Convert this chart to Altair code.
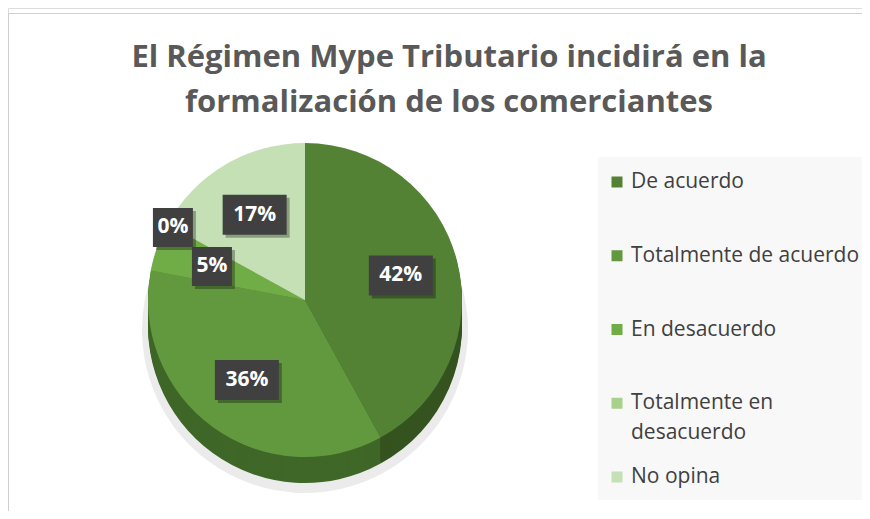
import altair as alt
import pandas as pd

categories = ["De acuerdo", "Totalmente de acuerdo", "En desacuerdo",
              "Totalmente en desacuerdo", "No opina"]
percentages = [42, 36, 5, 0, 17]
labels = ["42%", "36%", "5%", "0%", "17%"]
order_idx = [0, 1, 2, 3, 4]
top_colors = ["#548235", "#62993e", "#70ad47", "#a9d18e", "#c5e0b4"]
side_colors = ["#35531f", "#3f6728", "#4d7d31", "#7a9a66", "#8eab84"]
title_lines = ["El Régimen Mype Tributario incidirá en la",
               "formalización de los comerciantes"]

df = pd.DataFrame({"cat": categories, "pct": percentages,
                   "label": labels, "idx": order_idx})
one = pd.DataFrame({"a": [0]})

W, H = 854, 503
CX, CY, R = 297, 292, 157
DEPTH = 26
FONT = "Open Sans"

base = alt.Chart(df)
theta = alt.Theta("pct:Q", stack=True)
order = alt.Order("idx:Q", sort="ascending")

# frame
top_line = alt.Chart(one).mark_rule(color="#d0d0d0", strokeWidth=1).encode(
    x=alt.value(0), x2=alt.value(W), y=alt.value(5.5))
left_line = alt.Chart(one).mark_rule(color="#d0d0d0", strokeWidth=1).encode(
    x=alt.value(0.5), y=alt.value(5), y2=alt.value(H))
legend_bg = alt.Chart(one).mark_rect(color="#f8f8f8").encode(
    x=alt.value(590), x2=alt.value(W), y=alt.value(149), y2=alt.value(492))

title = alt.Chart(one).mark_text(
    font=FONT, fontSize=31, fontWeight="bold", color="#595959",
    lineHeight=45, baseline="middle", align="center"
).encode(x=alt.value(441), y=alt.value(50), text=alt.value(title_lines))

# pie shadow
shadow = base.mark_arc(radius=R + 6, opacity=0.08, color="#000000").encode(
    theta=theta, order=order, x=alt.value(CX), y=alt.value(CY + DEPTH + 4))

sides = []
for k in range(DEPTH, 0, -2):
    sides.append(base.mark_arc(radius=R, strokeWidth=0).encode(
        theta=theta, order=order,
        color=alt.Color("cat:N", scale=alt.Scale(domain=categories, range=side_colors),
                        legend=None),
        x=alt.value(CX), y=alt.value(CY + k)))

top = base.mark_arc(radius=R, strokeWidth=0).encode(
    theta=theta, order=order,
    color=alt.Color("cat:N", scale=alt.Scale(domain=categories, range=top_colors),
                    legend=None),
    x=alt.value(CX), y=alt.value(CY))

lab = base.transform_joinaggregate(total="sum(pct)").transform_window(
    cum="sum(pct)", sort=[alt.SortField("idx")]
).transform_calculate(
    mid="(datum.cum - datum.pct / 2) / datum.total * 2 * PI",
    rr=f"datum.pct == 0 ? {R * 0.96} : {R * 0.63}",
    lx=f"{CX} + datum.rr * sin(datum.mid)",
    ly=f"{CY} - datum.rr * cos(datum.mid)")

big = "M-1,-0.625H1V0.625H-1Z"
small = "M-0.8,-0.78H0.8V0.78H-0.8Z"

box_shadow = lab.mark_point(filled=True, opacity=0.3, color="#000000",
                            xOffset=3, yOffset=3).encode(
    x=alt.X("lx:Q", scale=None), y=alt.Y("ly:Q", scale=None),
    shape=alt.condition("datum.pct < 10", alt.value(small), alt.value(big)),
    size=alt.condition("datum.pct < 10", alt.value(2500), alt.value(4096)))
box = lab.mark_point(filled=True, opacity=1, color="#404040").encode(
    x=alt.X("lx:Q", scale=None), y=alt.Y("ly:Q", scale=None),
    shape=alt.condition("datum.pct < 10", alt.value(small), alt.value(big)),
    size=alt.condition("datum.pct < 10", alt.value(2500), alt.value(4096)))
txt = lab.mark_text(font=FONT, fontSize=21, fontWeight="bold", color="white",
                    baseline="middle", align="center").encode(
    x=alt.X("lx:Q", scale=None), y=alt.Y("ly:Q", scale=None), text="label:N")

# legend
leg_y = alt.Y("cat:N", scale=alt.Scale(domain=categories, type="point",
                                       range=[174, 469], padding=0), axis=None)
leg_sym = base.mark_square(size=121, opacity=1).encode(
    x=alt.value(609), y=leg_y,
    color=alt.Color("cat:N", scale=alt.Scale(domain=categories, range=top_colors),
                    legend=None))
leg_txt = base.transform_calculate(
    lbl="datum.cat == 'Totalmente en desacuerdo' ? ['Totalmente en', 'desacuerdo'] : datum.cat"
).mark_text(font=FONT, fontSize=21, color="#404040", align="left",
            baseline="middle", lineHeight=30).encode(
    x=alt.value(623), y=leg_y, text="lbl:N")

chart = alt.layer(
    top_line, left_line, legend_bg, title, shadow, *sides, top,
    box_shadow, box, txt, leg_sym, leg_txt
).resolve_scale(color="independent", y="independent").properties(
    width=W, height=H, autosize=alt.AutoSizeParams(type="none"), padding=0
).configure_view(strokeWidth=0, stroke="transparent").configure(background="white")

chart.save("out.html", embed_options={"renderer": "svg", "actions": False})
